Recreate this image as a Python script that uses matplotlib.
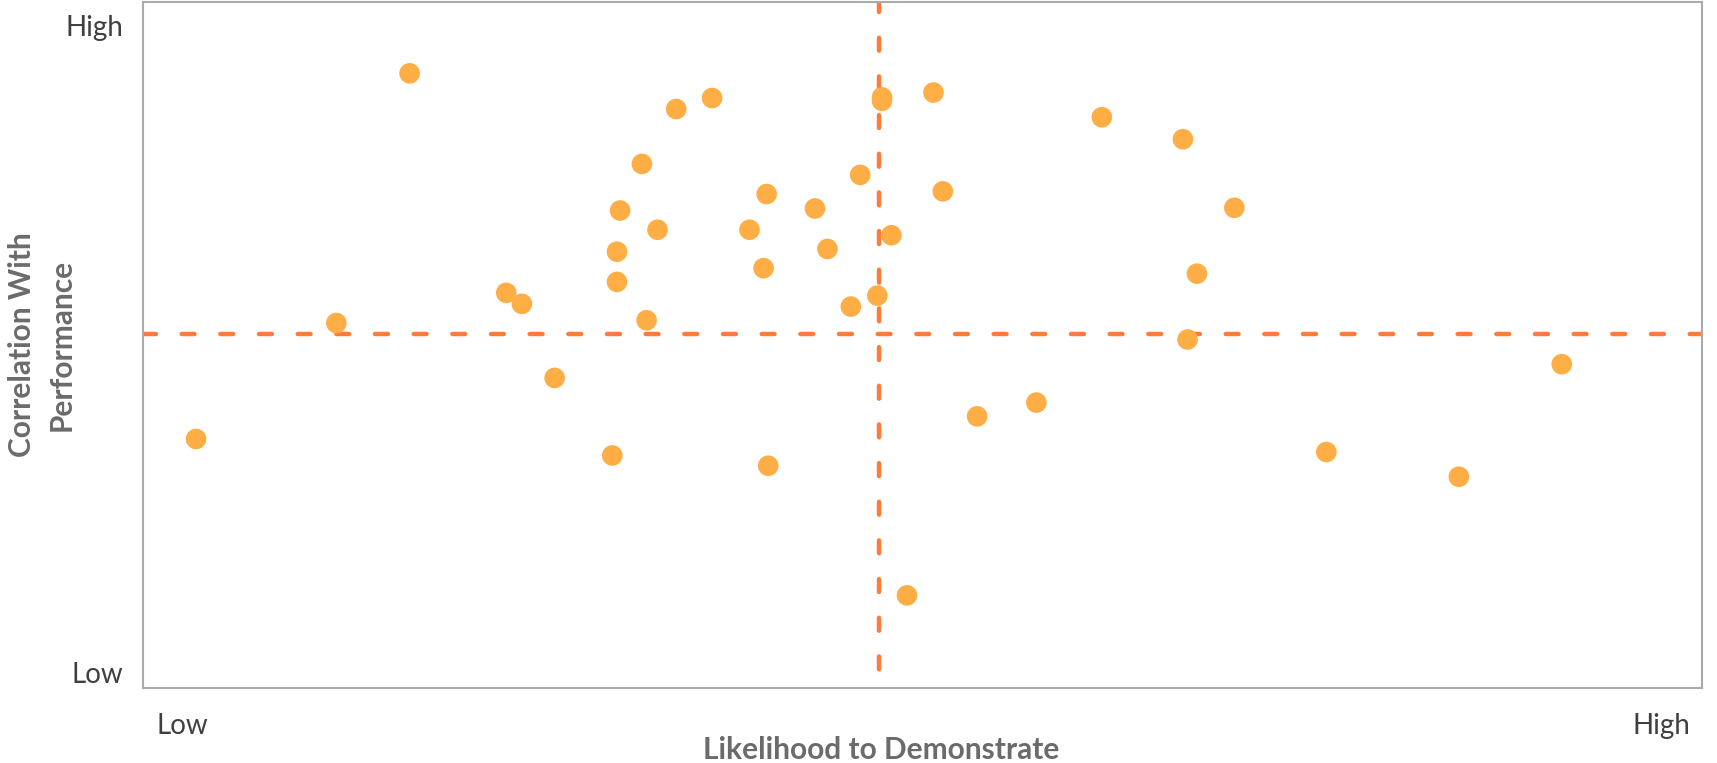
import matplotlib.pyplot as plt

# posiciones (escala 0-100 en ambos ejes)
likelihood = [17.1, 23.3, 24.3, 12.4, 3.4, 34.2, 36.5, 47.4, 47.4, 50.7,
              32.0, 46.0, 40.0, 51.3, 30.6, 43.1, 33.0, 38.9, 48.0, 30.4,
              43.9, 39.8, 30.4, 47.1, 45.4, 32.3, 26.4, 30.1, 40.1, 49.0,
              61.5, 66.7, 70.0, 67.6, 67.0, 53.5, 57.3, 75.9, 91.0, 84.4]
correlation = [89.6, 57.6, 56.0, 53.2, 36.3, 84.4, 86.0, 86.1, 85.6, 86.8,
               76.4, 74.8, 72.0, 72.4, 69.6, 69.9, 66.8, 66.8, 66.0, 63.6,
               64.0, 61.2, 59.2, 57.2, 55.6, 53.6, 45.2, 33.9, 32.4, 13.5,
               83.2, 80.0, 70.0, 60.4, 50.8, 39.6, 41.6, 34.4, 47.2, 30.8]
x_ref = 47.2
y_ref = 51.6
x_tick_pos = [2.5, 97.4]
y_tick_pos = [2.3, 96.6]
tick_labels = ['Low', 'High']

plt.rcParams['font.family'] = ['Lato', 'DejaVu Sans']

fig = plt.figure(figsize=(17.17, 7.63), dpi=100)
ax = fig.add_axes([0.0833, 0.0983, 0.908, 0.8991])

ax.scatter(likelihood, correlation, s=220, color='#FFAD45', edgecolors='none', zorder=3)
ax.axvline(x_ref, color='#FF7B39', lw=3.2, linestyle=(4.5, (2.9, 5.8)),
           dash_capstyle='round', zorder=2)
ax.axhline(y_ref, color='#FF7B39', lw=3.2, dashes=(2.9, 5.8), dash_capstyle='round', zorder=2)

ax.set_xlim(0, 100)
ax.set_ylim(0, 100)
ax.set_xticks(x_tick_pos)
ax.set_xticklabels(tick_labels)
ax.set_yticks(y_tick_pos)
ax.set_yticklabels(tick_labels)
ax.tick_params(axis='x', length=0, pad=18, labelsize=20, labelcolor='#404040')
ax.tick_params(axis='y', length=0, pad=14, labelsize=20, labelcolor='#404040')
for s in ax.spines.values():
    s.set_color('#ABABAB')
    s.set_linewidth(1.5)

fig.text(0.513, 0.017, 'Likelihood to Demonstrate', ha='center', va='center',
         fontsize=21.5, fontweight='bold', color='#6B6B6B')
fig.text(0.0245, 0.548, 'Correlation With\nPerformance', ha='center', va='center',
         rotation=90, multialignment='center', fontsize=21.5, fontweight='bold',
         color='#6B6B6B', linespacing=1.5)

plt.savefig('out.png', dpi=100)
